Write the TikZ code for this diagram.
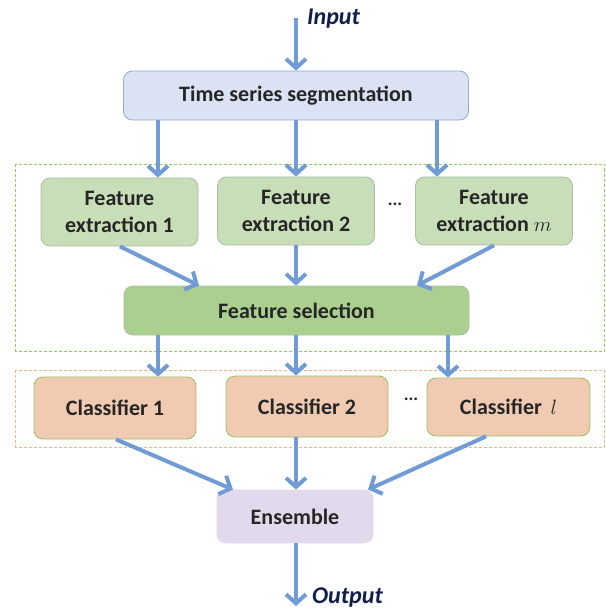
\documentclass[tikz,border=0pt]{standalone}
\usepackage{fontspec}
\setmainfont{Carlito}
\usetikzlibrary{arrows.meta}
\definecolor{arrowc}{RGB}{112,155,212}
\definecolor{segfill}{RGB}{218,226,243}
\definecolor{segdraw}{RGB}{143,170,220}
\definecolor{fefill}{RGB}{200,222,185}
\definecolor{fedraw}{RGB}{170,190,160}
\definecolor{selfill}{RGB}{171,207,142}
\definecolor{clfill}{RGB}{240,203,178}
\definecolor{cldraw}{RGB}{155,190,90}
\definecolor{ensfill}{RGB}{226,218,236}
\definecolor{txt}{RGB}{38,38,38}
\definecolor{navy}{RGB}{18,30,75}
\definecolor{gdash}{RGB}{146,208,80}
\definecolor{odash}{RGB}{244,177,131}
\tikzset{
  box/.style={rounded corners=9pt, line width=0.8pt, inner sep=0pt, align=center,
    text=txt, font=\fontsize{22}{27}\selectfont\bfseries},
  flow/.style={draw=arrowc, line width=4pt, -{Straight Barb[length=9pt,width=20pt]}},
  iolabel/.style={text=navy, font=\fontsize{24}{28}\selectfont\bfseries\itshape, inner sep=0pt},
  frame/.style={dashed, line width=0.8pt, dash pattern=on 3pt off 2pt}
}
\begin{document}
\begin{tikzpicture}[x=1pt,y=-1pt]
\useasboundingbox (0,0) rectangle (605,612);
% frames
\draw[frame, draw=gdash] (15.5,164) rectangle (604,351);
\draw[frame, draw=odash] (15.5,370) rectangle (604,447);
% nodes
\node[box, fill=segfill, draw=segdraw, minimum width=345pt, minimum height=49pt] (seg) at (296,95.5) {Time series segmentation};
\node[box, fill=fefill, draw=fedraw, minimum width=157pt, minimum height=68pt] (fe1) at (119.5,212) {Feature\\extraction 1};
\node[box, fill=fefill, draw=fedraw, minimum width=157pt, minimum height=68pt] (fe2) at (296,211) {Feature\\extraction 2};
\node[box, fill=fefill, draw=fedraw, minimum width=157pt, minimum height=68pt] (fem) at (494,211) {Feature\\extraction $m$};
\node[text=txt, font=\fontsize{18}{20}\selectfont\bfseries] (dots1) at (395,204) {...};
\node[box, fill=selfill, draw=fedraw, minimum width=345pt, minimum height=49pt] (sel) at (296.5,310.5) {Feature selection};
\node[box, fill=clfill, draw=cldraw, minimum width=162pt, minimum height=62pt] (c1) at (115,408) {Classifier 1};
\node[box, fill=clfill, draw=cldraw, minimum width=162pt, minimum height=61pt] (c2) at (307,406.5) {Classifier 2};
\node[box, fill=clfill, draw=cldraw, minimum width=163pt, minimum height=58pt] (cl) at (508.5,407) {Classifier \,$l$};
\node[text=txt, font=\fontsize{18}{20}\selectfont\bfseries] (dots2) at (411,399) {...};
\node[box, fill=ensfill, draw=ensfill, minimum width=156pt, minimum height=53pt] (ens) at (295,516.5) {Ensemble};
% io
\coordinate (inS) at (296,18);
\coordinate (outE) at (296,606);
\node[iolabel, anchor=west] (inL) at (307,19) {Input};
\node[iolabel, anchor=west] (outL) at (312,598) {Output};
% arrows
\draw[flow] (inS) -- (seg.north -| inS);
\draw[flow] (seg.south -| 158,0) -- (fe1.north -| 158,0);
\draw[flow] (seg.south -| 296,0) -- (fe2.north -| 296,0);
\draw[flow] (seg.south -| 437,0) -- (fem.north -| 437,0);
\draw[flow] (fe1.south -| 120,0) -- (sel.north -| 199,0);
\draw[flow] (fe2.south -| 296,0) -- (sel.north -| 296,0);
\draw[flow] (fem.south -| 494,0) -- (sel.north -| 417,0);
\draw[flow] (sel.south -| 158,0) -- (c1.north -| 158,0);
\draw[flow] (sel.south -| 296,0) -- (c2.north -| 296,0);
\draw[flow] (sel.south -| 448,0) -- (cl.north -| 448,0);
\draw[flow] (c1.south -| 116,0) -- (ens.north -| 233,0);
\draw[flow] (c2.south -| 296,0) -- (ens.north -| 296,0);
\draw[flow] (cl.south -| 486,0) -- (ens.north -| 368,0);
\draw[flow] (ens.south -| outE) -- (outE);
\end{tikzpicture}
\end{document}
